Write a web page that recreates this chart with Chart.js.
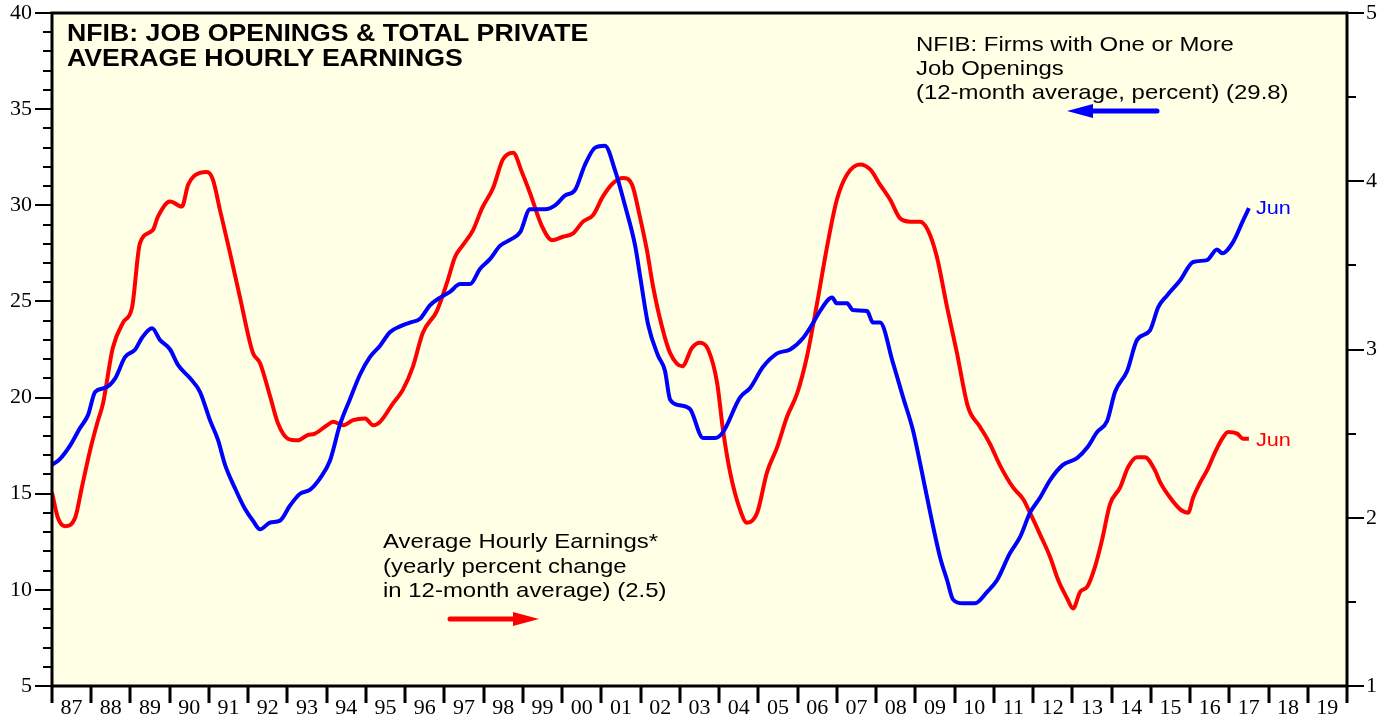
<!DOCTYPE html>
<html>
<head>
<meta charset="utf-8">
<script src="https://cdn.jsdelivr.net/npm/chart.js@4.4.1/dist/chart.umd.min.js"></script>
<style>
html,body{margin:0;padding:0;background:#fff;}
#wrap{width:1394px;height:717px;}
</style>
</head>
<body>
<div id="wrap"><canvas id="chart" width="1394" height="717"></canvas></div>
<script>

// NFIB firms with one or more job openings, 12-month avg, percent (left axis)
const blueYears = [
1987.00,1987.20,1987.46,1987.71,1987.92,1988.10,1988.35,1988.61,1988.86,1989.12,
1989.29,1989.55,1989.75,1990.01,1990.21,1990.52,1990.77,1991.03,1991.23,1991.41,
1991.66,1991.92,1992.12,1992.30,1992.56,1992.81,1993.07,1993.32,1993.57,1993.83,
1994.08,1994.34,1994.59,1994.85,1995.10,1995.36,1995.61,1995.87,1996.12,1996.38,
1996.63,1996.89,1997.14,1997.40,1997.65,1997.91,1998.16,1998.42,1998.67,1998.93,
1999.18,1999.56,1999.82,2000.07,2000.33,2000.58,2000.84,2001.09,2001.35,2001.60,
2001.86,2001.98,2002.19,2002.44,2002.62,2002.75,2003.00,2003.26,2003.59,2003.90,
2004.10,2004.53,2004.79,2005.12,2005.48,2005.81,2006.14,2006.37,2006.57,2006.88,
2007.00,2007.26,2007.41,2007.77,2007.92,2008.10,2008.43,2008.69,2008.94,2009.12,
2009.38,2009.63,2009.81,2009.96,2010.22,2010.52,2010.83,2011.08,2011.41,2011.67,
2011.92,2012.18,2012.43,2012.76,2013.12,2013.38,2013.63,2013.89,2014.09,2014.40,
2014.65,2014.98,2015.19,2015.41,2015.75,2016.08,2016.43,2016.69,2016.82,2017.10,
2017.35,2017.50];
const blueValues = [
16.5,16.8,17.5,18.4,19.1,20.3,20.5,21.0,22.1,22.5,
23.1,23.6,23.0,22.5,21.7,21.0,20.3,18.8,17.8,16.5,
15.3,14.2,13.6,13.15,13.5,13.6,14.4,15.0,15.2,15.8,
16.7,18.6,19.9,21.2,22.1,22.7,23.4,23.7,23.9,24.1,
24.8,25.2,25.5,25.9,25.9,26.7,27.2,27.9,28.2,28.6,
29.8,29.8,30.0,30.5,30.8,32.1,33.0,33.1,31.8,30.0,
27.9,26.4,23.8,22.2,21.4,19.9,19.6,19.4,17.9,17.9,
18.2,20.0,20.5,21.6,22.3,22.5,23.1,23.8,24.5,25.2,
24.9,24.9,24.55,24.5,23.9,23.9,21.8,20.0,18.3,16.6,
14.0,11.7,10.5,9.5,9.3,9.3,9.9,10.5,11.9,12.75,
14.0,14.8,15.7,16.5,16.85,17.4,18.2,18.8,20.3,21.4,
23.0,23.5,24.7,25.3,26.1,27.05,27.15,27.7,27.5,28.1,
29.2,29.85];

// Average hourly earnings, yearly % change in 12-month avg (right axis)
const redYears = [
1987.00,1987.15,1987.33,1987.59,1987.76,1987.97,1988.15,1988.30,1988.55,1988.81,
1989.04,1989.24,1989.57,1989.70,1990.01,1990.31,1990.47,1990.77,1990.95,1991.10,
1991.28,1991.54,1991.79,1992.12,1992.30,1992.56,1992.76,1993.01,1993.27,1993.50,
1993.70,1994.01,1994.16,1994.42,1994.67,1994.98,1995.18,1995.36,1995.69,1995.94,
1996.20,1996.45,1996.81,1997.07,1997.27,1997.47,1997.73,1997.96,1998.24,1998.49,
1998.75,1998.98,1999.18,1999.49,1999.74,2000.02,2000.28,2000.53,2000.79,2001.04,
2001.30,2001.55,2001.78,2001.98,2002.16,2002.32,2002.55,2002.75,2003.06,2003.31,
2003.51,2003.72,2003.95,2004.10,2004.28,2004.53,2004.71,2004.97,2005.22,2005.48,
2005.73,2005.99,2006.24,2006.50,2006.75,2007.00,2007.26,2007.59,2007.85,2008.10,
2008.36,2008.61,2008.87,2009.12,2009.32,2009.55,2009.81,2010.06,2010.34,2010.65,
2010.90,2011.16,2011.49,2011.75,2011.92,2012.18,2012.43,2012.64,2012.87,2013.02,
2013.20,2013.38,2013.58,2013.76,2013.96,2014.22,2014.42,2014.65,2014.85,2015.11,
2015.24,2015.49,2015.75,2015.95,2016.08,2016.26,2016.43,2016.64,2016.82,2016.97,
2017.20,2017.35,2017.50];
const redValues = [
2.15,2.00,1.95,2.00,2.18,2.40,2.56,2.68,3.01,3.16,
3.25,3.63,3.71,3.79,3.88,3.85,3.98,4.05,4.055,4.01,
3.83,3.57,3.31,2.98,2.92,2.72,2.56,2.47,2.46,2.49,
2.50,2.55,2.57,2.55,2.58,2.59,2.55,2.57,2.68,2.76,
2.90,3.10,3.23,3.40,3.55,3.62,3.71,3.84,3.96,4.13,
4.17,4.05,3.93,3.73,3.65,3.67,3.69,3.76,3.80,3.91,
3.99,4.02,3.98,3.79,3.59,3.37,3.13,2.98,2.90,3.01,
3.04,3.00,2.80,2.52,2.27,2.05,1.97,2.03,2.27,2.42,
2.60,2.74,2.96,3.28,3.61,3.89,4.04,4.10,4.07,3.98,
3.89,3.78,3.76,3.76,3.71,3.55,3.25,2.98,2.66,2.54,
2.44,2.31,2.18,2.11,2.03,1.90,1.77,1.63,1.52,1.46,
1.56,1.59,1.71,1.87,2.08,2.18,2.30,2.36,2.36,2.28,
2.21,2.12,2.05,2.03,2.12,2.21,2.28,2.39,2.47,2.51,
2.50,2.47,2.47];

const titleLines = ["NFIB: JOB OPENINGS & TOTAL PRIVATE", "AVERAGE HOURLY EARNINGS"];
const blueNote = ["NFIB: Firms with One or More", "Job Openings", "(12-month average, percent) (29.8)"];
const redNote = ["Average Hourly Earnings*", "(yearly percent change", "in 12-month average) (2.5)"];
const endLabel = "Jun";

const BLUE = "#0000ff";
const RED = "#ff0000";
const SANS = "'Liberation Sans', Arial, sans-serif";
const SERIF = "'Liberation Serif', 'Times New Roman', serif";

function toPoints(xs, ys){
return xs.map((x,i)=>({x:x, y:ys[i]}));
}

// reference uses a wider Helvetica, so stretch the sans text a bit
function wideText(ctx, text, x, y, stretch){
ctx.save();
ctx.translate(x, y);
ctx.scale(stretch, 1);
ctx.fillText(text, 0, 0);
ctx.restore();
}

function arrow(ctx, x1, y, x2, color){
const dir = x2 > x1 ? 1 : -1;
ctx.save();
ctx.strokeStyle = color;
ctx.fillStyle = color;
ctx.lineWidth = 5;
ctx.lineCap = "round";
ctx.beginPath();
ctx.moveTo(x1, y);
ctx.lineTo(x2 - dir*20, y);
ctx.stroke();
ctx.beginPath();
ctx.moveTo(x2, y);
ctx.lineTo(x2 - dir*26, y - 7);
ctx.lineTo(x2 - dir*26, y + 7);
ctx.closePath();
ctx.fill();
ctx.restore();
}

const framePlugin = {
id:"frame",
beforeDraw(c){
const ctx = c.ctx, a = c.chartArea;
ctx.save();
ctx.fillStyle = "#ffffff";
ctx.fillRect(0, 0, c.width, c.height);
ctx.fillStyle = "#ffffe6";
ctx.fillRect(a.left, a.top, a.right - a.left, a.bottom - a.top);
ctx.restore();
},
afterDraw(c){
const ctx = c.ctx, a = c.chartArea;
const sx = c.scales.x, sl = c.scales.y, sr = c.scales.y1;
ctx.save();
ctx.strokeStyle = "#000";

// tick marks
ctx.lineWidth = 2;
ctx.beginPath();
for(let v = 5; v <= 40; v++){
const y = Math.round(sl.getPixelForValue(v));
const len = v % 5 === 0 ? 17 : 9;
ctx.moveTo(a.left - len, y); ctx.lineTo(a.left, y);
}
for(let v = 1; v <= 5.001; v += 0.5){
const y = Math.round(sr.getPixelForValue(v));
const len = Math.abs(v - Math.round(v)) < 0.01 ? 17 : 9;
ctx.moveTo(a.right, y); ctx.lineTo(a.right + len, y);
}
ctx.stroke();
ctx.lineWidth = 3;
ctx.beginPath();
for(let yr = 1987; yr <= 2020; yr++){
const x = Math.round(sx.getPixelForValue(yr));
ctx.moveTo(x, a.bottom); ctx.lineTo(x, a.bottom + 17);
}
ctx.stroke();

// frame
ctx.lineWidth = 3;
ctx.strokeRect(a.left, a.top, a.right - a.left, a.bottom - a.top);

// title
ctx.fillStyle = "#000";
ctx.textBaseline = "alphabetic";
ctx.textAlign = "left";
ctx.font = "bold 23px " + SANS;
titleLines.forEach((t,i)=>wideText(ctx, t, 67, 41 + i*25, 1.16));

// series notes
ctx.font = "21px " + SANS;
blueNote.forEach((t,i)=>wideText(ctx, t, 916, 51 + i*24, 1.14));
redNote.forEach((t,i)=>wideText(ctx, t, 383, 548 + i*24.5, 1.14));
arrow(ctx, 1157, 111, 1067, BLUE);
arrow(ctx, 450, 619, 539, RED);

// end labels
ctx.font = "19px " + SANS;
ctx.textBaseline = "middle";
const bx = sx.getPixelForValue(blueYears[blueYears.length-1]);
const by = sl.getPixelForValue(blueValues[blueValues.length-1]);
ctx.fillStyle = BLUE;
wideText(ctx, endLabel, bx + 7, by + 1, 1.14);
const rx = sx.getPixelForValue(redYears[redYears.length-1]);
const ry = sr.getPixelForValue(redValues[redValues.length-1]);
ctx.fillStyle = RED;
wideText(ctx, endLabel, rx + 7, ry + 2, 1.14);

ctx.restore();
}
};

const tickFont = {family:SERIF, size:22};

function fixY(width){
return s => {
s.width = width;
s.paddingTop = 0;
s.paddingBottom = 0;
};
}

new Chart(document.getElementById("chart"), {
type:"line",
data:{
datasets:[
{
label:"NFIB job openings",
data:toPoints(blueYears, blueValues),
yAxisID:"y",
borderColor:BLUE,
borderWidth:4,
pointRadius:0,
cubicInterpolationMode:"monotone",
fill:false
},
{
label:"Average hourly earnings",
data:toPoints(redYears, redValues),
yAxisID:"y1",
borderColor:RED,
borderWidth:4,
pointRadius:0,
cubicInterpolationMode:"monotone",
fill:false
}
]
},
options:{
responsive:false,
animation:false,
devicePixelRatio:1,
layout:{padding:{top:13, left:0, right:0, bottom:0}},
plugins:{legend:{display:false}, tooltip:{enabled:false}},
scales:{
x:{
type:"linear",
min:1987,
max:2020,
grid:{display:false, drawTicks:false},
border:{display:false},
ticks:{
stepSize:1,
autoSkip:false,
maxRotation:0,
labelOffset:19.6,
padding:9,
color:"#000",
font:tickFont,
callback:v => v < 2020 ? String(v % 100).padStart(2, "0") : ""
},
afterFit:s => {
s.height = 31;
s.paddingLeft = 0;
s.paddingRight = 0;
}
},
y:{
position:"left",
min:5,
max:40,
grid:{display:false, drawTicks:false},
border:{display:false},
ticks:{stepSize:5, padding:20, color:"#000", font:tickFont},
afterFit:fixY(52)
},
y1:{
position:"right",
min:1,
max:5,
grid:{display:false, drawTicks:false},
border:{display:false},
ticks:{stepSize:1, padding:19, color:"#000", font:tickFont},
afterFit:fixY(47)
}
}
},
plugins:[framePlugin]
});

</script>
</body>
</html>
